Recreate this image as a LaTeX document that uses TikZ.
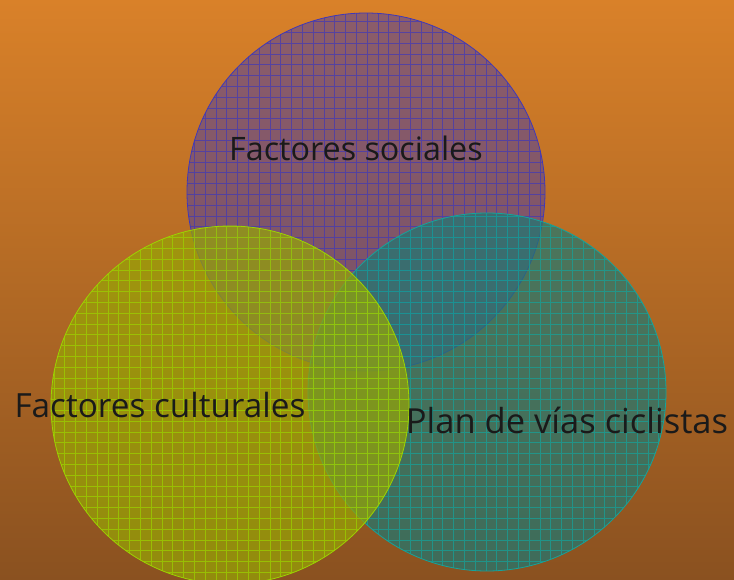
\documentclass[tikz,border=0pt]{standalone}
\usepackage{fontspec}
\setmainfont{Open Sans}
\definecolor{bgtop}{HTML}{D98129}
\definecolor{bgbot}{HTML}{8A5120}
\definecolor{purfill}{RGB}{90,70,150}
\definecolor{purline}{HTML}{4038B8}
\definecolor{yelfill}{RGB}{150,165,5}
\definecolor{yelline}{HTML}{9CD400}
\definecolor{tealfill}{RGB}{30,120,115}
\definecolor{tealline}{HTML}{14A49C}
\definecolor{txt}{HTML}{1A1A1A}
\tikzset{
  lbl/.style={text=txt, inner sep=0pt},
}
\newcommand{\gridcircle}[4]{% center name, fill colour, line colour, opacity
  \fill[#2, fill opacity=#4] (#1) circle (179);
  \begin{scope}
    \clip (#1) circle (179);
    \draw[#3, line width=0.7pt, opacity=0.7, step=10.8pt] ([shift={(-190,-190)}]#1) grid ([shift={(190,190)}]#1);
  \end{scope}
  \draw[#3, line width=0.8pt] (#1) circle (179);
}
\begin{document}
\begin{tikzpicture}[x=1pt,y=-1pt]
  \shade[top color=bgtop, bottom color=bgbot] (0,0) rectangle (734,580);
  \useasboundingbox (0,0) rectangle (734,580);
  \coordinate (cs) at (366,192);
  \coordinate (ct) at (487,392);
  \coordinate (cy) at (230,405);
  \gridcircle{cs}{purfill}{purline}{0.6}
  \gridcircle{ct}{tealfill}{tealline}{0.7}
  \gridcircle{cy}{yelfill}{yelline}{0.7}
  \node[lbl, font=\fontsize{32.3}{36}\selectfont] (s) at (356,148) {Factores sociales};
  \node[lbl, font=\fontsize{33.3}{37}\selectfont] (c) at (160,405) {Factores culturales};
  \node[lbl, font=\fontsize{34.5}{38}\selectfont] (p) at (567,420) {Plan de vías ciclistas};
\end{tikzpicture}
\end{document}
